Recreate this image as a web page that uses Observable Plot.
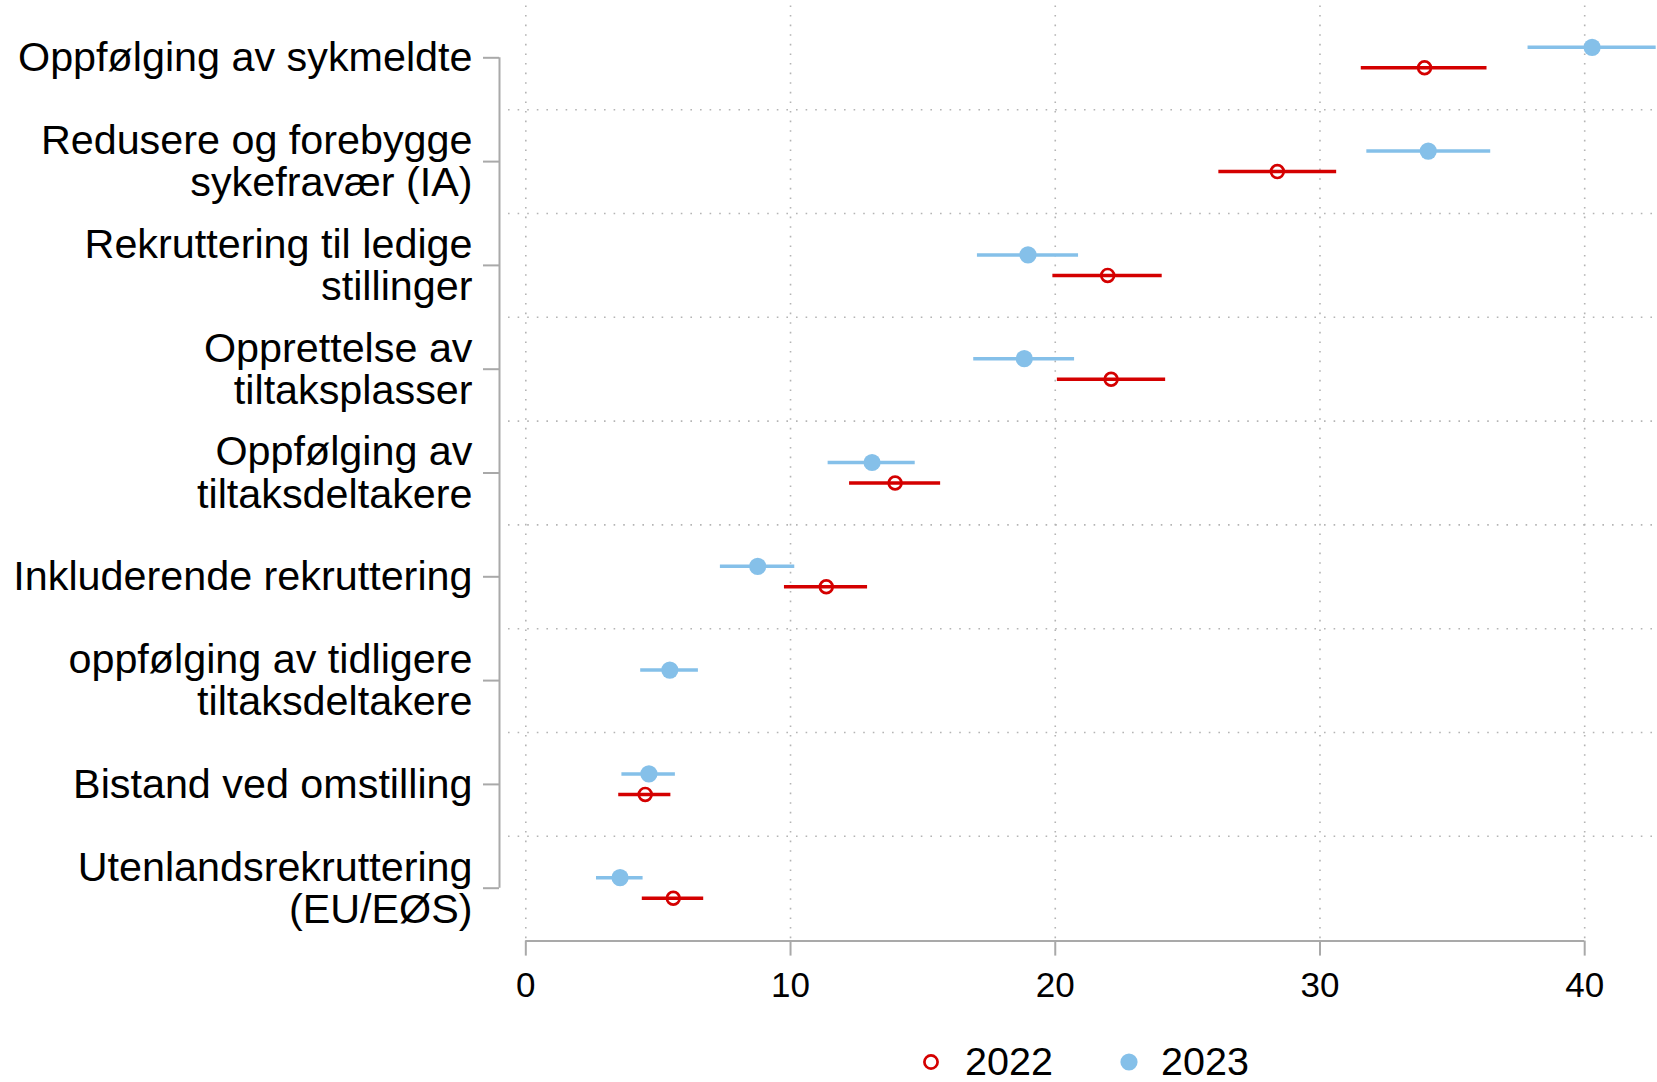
<!DOCTYPE html>
<html>
<head>
<meta charset="utf-8">
<script src="https://cdn.jsdelivr.net/npm/d3@7"></script>
<script src="https://cdn.jsdelivr.net/npm/@observablehq/plot@0.6"></script>
<style>
  html, body { margin: 0; padding: 0; background: #fff; }
  #wrap { position: relative; width: 1657px; height: 1082px; font-family: "Liberation Sans", Arial, sans-serif; }
  #legend { position: absolute; left: 0; top: 1030px; }
</style>
</head>
<body>
<div id="wrap"></div>
<script>
// Tiltak / aktiviteter, ordered as listed on the axis (top to bottom)
const categories = [
  "Oppfølging av sykmeldte",
  "Redusere og forebygge\nsykefravær (IA)",
  "Rekruttering til ledige\nstillinger",
  "Opprettelse av\ntiltaksplasser",
  "Oppfølging av\ntiltaksdeltakere",
  "Inkluderende rekruttering",
  "oppfølging av tidligere\ntiltaksdeltakere",
  "Bistand ved omstilling",
  "Utenlandsrekruttering\n(EU/EØS)"
];

const seriesNames = ["2022", "2023"];

// Estimates (percent) with lower/upper interval bounds
const est2022 = [33.95, 28.39, 21.98, 22.11, 13.95, 11.35, null, 4.51, 5.57];
const lo2022  = [31.56, 26.18, 19.91, 20.08, 12.23,  9.77, null, 3.51, 4.40];
const hi2022  = [36.31, 30.63, 24.04, 24.17, 15.67, 12.91, null, 5.48, 6.72];

const est2023 = [40.28, 34.09, 18.97, 18.83, 13.08,  8.76, 5.44, 4.65, 3.56];
const lo2023  = [37.86, 31.77, 17.06, 16.92, 11.42,  7.35, 4.34, 3.63, 2.67];
const hi2023  = [42.70, 36.45, 20.88, 20.73, 14.71, 10.16, 6.52, 5.65, 4.43];

const xTicks = [0, 10, 20, 30, 40];
const xDomain = [-0.654, 42.75];

const red = "#d40000";
const blue = "#85c0e9";
const axisGray = "#a9a9a9";
const gridGray = "#b4b4b4";

function buildRows(est, lo, hi, name) {
  const rows = [];
  est.forEach((v, i) => {
    if (v != null) rows.push({cat: i, series: name, est: v, lo: lo[i], hi: hi[i]});
  });
  return rows;
}
const rows2022 = buildRows(est2022, lo2022, hi2022, seriesNames[0]);
const rows2023 = buildRows(est2023, lo2023, hi2023, seriesNames[1]);

const n = categories.length;
const rowIndex = d3.range(n);
const dividers = d3.range(1, n).map(i => i - 0.5);

const chart = Plot.plot({
  width: 1657,
  height: 1030,
  marginTop: 5.4,
  marginBottom: 90.4,
  marginLeft: 508,
  marginRight: 0,
  className: "chart",
  style: {
    fontFamily: '"Liberation Sans", Arial, sans-serif',
    fontSize: "35px",
    color: "#000",
    background: "#fff",
    overflow: "visible"
  },
  x: {domain: xDomain, label: null},
  y: {domain: [n - 0.5, -0.5], label: null},
  marks: [
    // dotted grid
    Plot.ruleX(xTicks, {stroke: gridGray, strokeWidth: 1.6, strokeDasharray: "1.6,8"}),
    Plot.ruleY(dividers, {stroke: gridGray, strokeWidth: 1.6, strokeDasharray: "1.6,8"}),
    // y axis line spanning first to last category
    Plot.ruleX([xDomain[0]], {y1: rowIndex[0], y2: rowIndex[n - 1], dx: -9, stroke: axisGray, strokeWidth: 2}),
    Plot.axisY(rowIndex, {
      tickSize: 16, tickPadding: 11, dx: -9,
      tickFormat: i => categories[i],
      fontSize: 41.3, lineHeight: 1.025,
      stroke: axisGray, strokeWidth: 2, fill: "#000"
    }),
    // x axis line spanning first to last tick
    Plot.ruleY([n - 0.5], {x1: xTicks[0], x2: xTicks[xTicks.length - 1], dy: 1, stroke: axisGray, strokeWidth: 2}),
    Plot.axisX(xTicks, {
      tickSize: 15, tickPadding: 16, dy: 1,
      stroke: axisGray, strokeWidth: 2, fill: "#000", fontSize: 35
    }),
    // 2023: filled dots with interval
    Plot.ruleY(rows2023, {y: "cat", x1: "lo", x2: "hi", dy: -10.5, stroke: blue, strokeWidth: 3.5}),
    Plot.dot(rows2023, {x: "est", y: "cat", dy: -10.5, r: 8.6, fill: blue, stroke: "none"}),
    // 2022: open circles with interval
    Plot.ruleY(rows2022, {y: "cat", x1: "lo", x2: "hi", dy: 10, stroke: red, strokeWidth: 3.5}),
    Plot.dot(rows2022, {x: "est", y: "cat", dy: 10, r: 6.4, fill: "none", stroke: red, strokeWidth: 2.7})
  ]
});

const wrap = document.getElementById("wrap");
wrap.appendChild(chart);

// Legend below the plot
const legendItems = [
  {name: seriesNames[0], cx: 931, tx: 965, kind: "open", color: red},
  {name: seriesNames[1], cx: 1129, tx: 1161, kind: "filled", color: blue}
];
const legendFont = 39.5;
const legend = d3.create("svg")
  .attr("id", "legend")
  .attr("width", 1657)
  .attr("height", 52)
  .style("font-family", '"Liberation Sans", Arial, sans-serif');
const cy = 30.5;
const item = legend.selectAll("g").data(legendItems).join("g");
item.append("circle")
  .attr("cx", d => d.cx)
  .attr("cy", cy + 1.5)
  .attr("r", d => d.kind === "open" ? 6.6 : 8.6)
  .attr("fill", d => d.kind === "open" ? "none" : d.color)
  .attr("stroke", d => d.kind === "open" ? d.color : "none")
  .attr("stroke-width", 2.7);
item.append("text")
  .attr("x", d => d.tx)
  .attr("y", cy + 0.358 * legendFont)
  .attr("font-size", legendFont)
  .attr("fill", "#000")
  .text(d => d.name);
wrap.appendChild(legend.node());
</script>
</body>
</html>
